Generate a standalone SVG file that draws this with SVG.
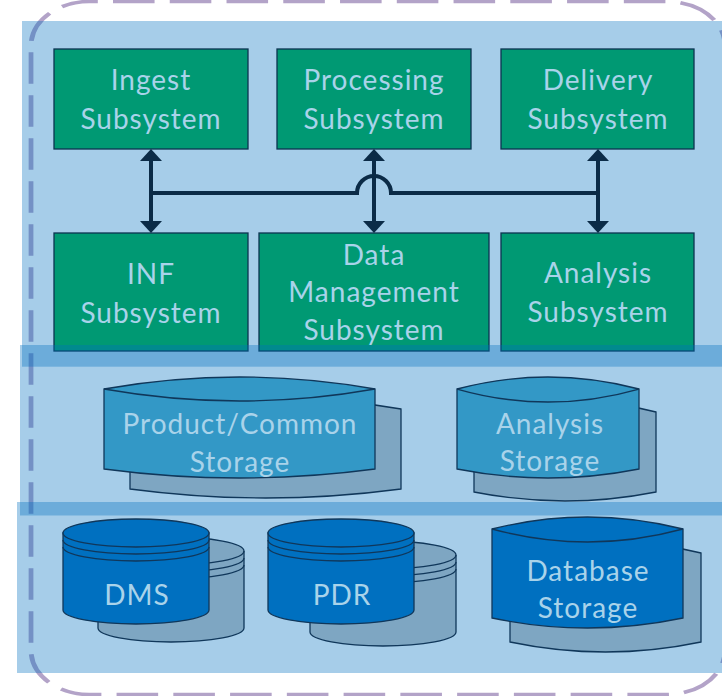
<svg xmlns="http://www.w3.org/2000/svg" width="722" height="696" viewBox="0 0 722 696">
<defs>
<style>
.layer{fill:#0070c0;fill-opacity:0.35}
.box{fill:#009973;stroke:#0c3350;stroke-width:1.3}
.t{font-family:Lato,"Liberation Sans",sans-serif;font-size:28px;fill:#a9d3ea;text-anchor:middle;letter-spacing:1px}
.conn{fill:none;stroke:#0b2b47;stroke-width:4}
.stmid{fill:#3398c6;stroke:#10375a;stroke-width:1.3}
.stbot{fill:#0070c0;stroke:#10375a;stroke-width:1.3}
.sh{fill:#7ea6c2;stroke:#10375a;stroke-width:1.3}
.ln{fill:none;stroke:#10375a;stroke-width:1.3}
</style>
<marker id="ah" viewBox="0 0 12 22" refX="9" refY="11" markerWidth="12" markerHeight="22" markerUnits="userSpaceOnUse" orient="auto-start-reverse">
<path d="M0,0 L12,11 L0,22 Z" fill="#0b2b47"/>
</marker>
</defs>
<rect width="722" height="696" fill="#ffffff"/>
<g id="border">
<rect x="23.5" y="1.5" width="525.7" height="693" rx="44" ry="44" transform="matrix(1.32 0 0 1 0 0)" fill="none" stroke="#b3a3c8" stroke-width="3.6" stroke-dasharray="31.5 11.5" stroke-dashoffset="24.9"/>
</g>
<rect id="layer-top" class="layer" x="22" y="21" width="710" height="345.7"/>
<g id="ingest"><rect class="box" x="54" y="49" width="194" height="100"/><text class="t" x="151" y="90">Ingest</text><text class="t" x="151" y="129">Subsystem</text></g>
<g id="processing"><rect class="box" x="277" y="49" width="194" height="100"/><text class="t" x="374" y="90">Processing</text><text class="t" x="374" y="129">Subsystem</text></g>
<g id="delivery"><rect class="box" x="501" y="49" width="193" height="100"/><text class="t" x="598" y="90">Delivery</text><text class="t" x="598" y="129">Subsystem</text></g>
<g id="inf"><rect class="box" x="54" y="233" width="194" height="118"/><text class="t" x="151" y="284">INF</text><text class="t" x="151" y="323">Subsystem</text></g>
<g id="datamgmt"><rect class="box" x="259" y="233" width="230" height="118"/><text class="t" x="374" y="265">Data</text><text class="t" x="374" y="302">Management</text><text class="t" x="374" y="340">Subsystem</text></g>
<g id="analysis"><rect class="box" x="501" y="233" width="193" height="118"/><text class="t" x="598" y="283">Analysis</text><text class="t" x="598" y="322">Subsystem</text></g>
<g id="connectors">
<path class="conn" d="M151,193 H357 A17,17 0 0 1 391,193 H598"/>
<line class="conn" x1="151" y1="152" x2="151" y2="230" marker-start="url(#ah)" marker-end="url(#ah)"/>
<line class="conn" x1="374" y1="152" x2="374" y2="230" marker-start="url(#ah)" marker-end="url(#ah)"/>
<line class="conn" x1="598" y1="152" x2="598" y2="230" marker-start="url(#ah)" marker-end="url(#ah)"/>
</g>
<rect id="layer-mid" class="layer" x="20" y="345" width="712" height="170.5"/>
<g id="product-storage">
<path class="sh" d="M130,409 Q265.5,385 401,409 L401,489 Q265.5,507 130,489 Z"/>
<path class="stmid" d="M104,389 Q239.5,365 375,389 L375,469 Q239.5,487 104,469 Z"/>
<path class="ln" d="M104,389 Q239.5,413 375,389"/>
<text class="t" x="240" y="434">Product/Common</text><text class="t" x="240" y="472">Storage</text>
</g>
<g id="analysis-storage">
<path class="sh" d="M474,412 Q565,388 656,412 L656,492 Q565,510 474,492 Z"/>
<path class="stmid" d="M457,389 Q548,365 639,389 L639,469 Q548,487 457,469 Z"/>
<path class="ln" d="M457,389 Q548,415 639,389"/>
<text class="t" x="550" y="434">Analysis</text><text class="t" x="550" y="471">Storage</text>
</g>
<rect id="layer-bot" class="layer" x="17" y="502" width="715" height="171"/>
<g id="dms">
<path class="sh" d="M98,551 L98,628 A73,14 0 0 0 244,628 L244,551 A73,14 0 0 0 98,551 Z"/>
<path class="ln" d="M98,558 A73,14 0 0 0 244,558 M98,565 A73,14 0 0 0 244,565 M98,551 A73,14 0 0 0 244,551"/>
<path class="stbot" d="M63,533 L63,610 A73,14 0 0 0 209,610 L209,533 Z"/>
<ellipse class="stbot" cx="136" cy="533" rx="73" ry="14"/>
<path class="ln" d="M63,540 A73,14 0 0 0 209,540 M63,547 A73,14 0 0 0 209,547"/>
<text class="t" x="137" y="605">DMS</text>
</g>
<g id="pdr">
<path class="sh" d="M310,555 L310,632 A73,14 0 0 0 456,632 L456,555 A73,14 0 0 0 310,555 Z"/>
<path class="ln" d="M310,562 A73,14 0 0 0 456,562 M310,569 A73,14 0 0 0 456,569 M310,555 A73,14 0 0 0 456,555"/>
<path class="stbot" d="M268,533 L268,610 A73,14 0 0 0 414,610 L414,533 Z"/>
<ellipse class="stbot" cx="341" cy="533" rx="73" ry="14"/>
<path class="ln" d="M268,540 A73,14 0 0 0 414,540 M268,547 A73,14 0 0 0 414,547"/>
<text class="t" x="342" y="605">PDR</text>
</g>
<g id="database-storage">
<path class="sh" d="M510,553 Q605.5,529 701,553 L701,642 Q605.5,662 510,642 Z"/>
<path class="stbot" d="M492,529 Q587.5,505 683,529 L683,618 Q587.5,638 492,618 Z"/>
<path class="ln" d="M492,529 Q587.5,555 683,529"/>
<text class="t" x="588" y="581">Database</text><text class="t" x="588" y="618">Storage</text>
</g>
</svg>
